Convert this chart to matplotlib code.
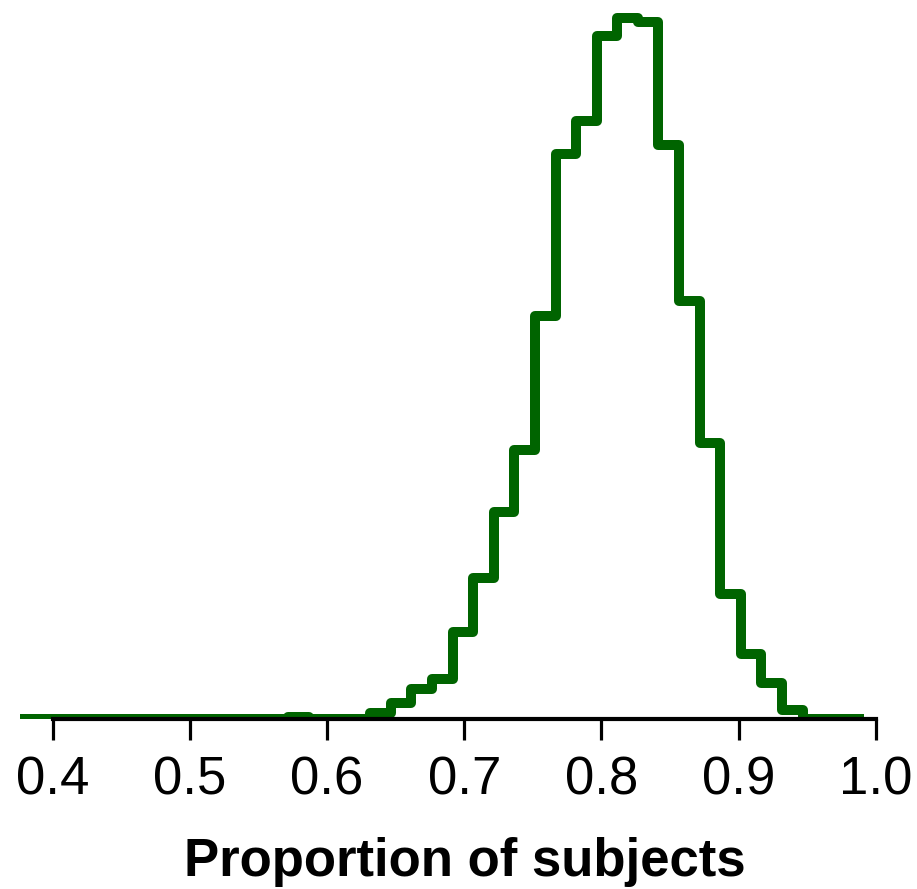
import matplotlib
matplotlib.use('Agg')
import matplotlib.pyplot as plt
import numpy as np

plt.rcParams['font.family'] = ['Liberation Sans', 'DejaVu Sans']

# histogram bins (width 0.015) and densities
bin_start = 0.3765
bin_width = 0.015
density = [0, 0, 0, 0, 0, 0, 0, 0, 0, 0, 0, 0, 0,      # 0.375 - 0.555
           0.02, 0, 0, 0,                              # 0.570 - 0.615
           0.07, 0.18, 0.34, 0.45, 0.98, 1.58, 2.32,   # 0.630 - 0.720
           3.02, 4.52, 6.33, 6.70, 7.66, 7.86, 7.81,   # 0.735 - 0.825
           6.44, 4.69, 3.09, 1.40, 0.73, 0.40, 0.10,   # 0.840 - 0.930
           0, 0, 0]                                    # 0.945 - 0.975
edges = bin_start + bin_width * np.arange(len(density) + 1)

xticks = [0.4, 0.5, 0.6, 0.7, 0.8, 0.9, 1.0]
xticklabels = ['0.4', '0.5', '0.6', '0.7', '0.8', '0.9', '1.0']

fig = plt.figure(figsize=(9.17, 8.89), dpi=100)
ax = fig.add_axes([0, 1 - 719/889, 1, 719/889])

st = ax.stairs(density, edges, baseline=0, color='#006400', linewidth=7.2, zorder=1)
st.set_capstyle('butt')
st.set_joinstyle('round')

ax.set_xlim(0.3617, 1.0299)
ax.set_ylim(0, 719/89.2)

for s in ['top', 'right', 'left']:
    ax.spines[s].set_visible(False)
ax.spines['bottom'].set_linewidth(3)
ax.spines['bottom'].set_bounds(0.4, 1.0)
ax.spines['bottom'].set_zorder(3)
ax.set_yticks([])
ax.set_xticks(xticks)
ax.set_xticklabels(xticklabels)
ax.tick_params(axis='x', direction='out', length=15, width=2.3, pad=11,
               labelsize=38, colors='black')

fig.text(464.5/917, 1 - 876/889, 'Proportion of subjects', ha='center', va='baseline',
         fontsize=38, fontweight='bold')

fig.savefig('out.png', dpi=100, facecolor='white')
